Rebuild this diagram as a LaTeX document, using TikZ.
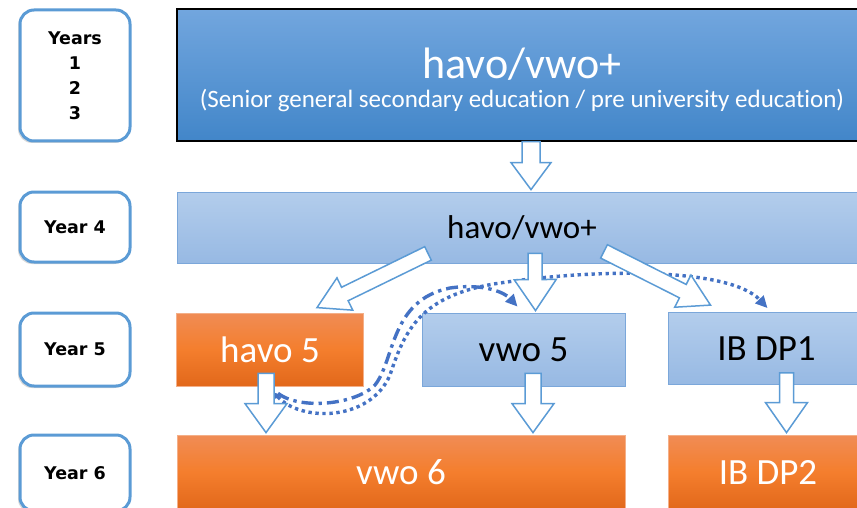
\documentclass[tikz,border=0pt]{standalone}
\usepackage{fontspec}
\setmainfont{Carlito}[Ligatures=NoCommon]
\newfontfamily\yearfont{DejaVu Sans}
\usetikzlibrary{calc,arrows.meta,shadows}
\definecolor{frame}{HTML}{5B9BD5}
\definecolor{dotblue}{HTML}{4472C4}
\definecolor{topA}{HTML}{72A6DE}
\definecolor{topB}{HTML}{4286C9}
\definecolor{lightA}{HTML}{B3CDEC}
\definecolor{lightB}{HTML}{97B9E3}
\definecolor{lightline}{HTML}{7BA7DA}
\definecolor{orA}{HTML}{F08C55}
\definecolor{orM}{HTML}{F47E2D}
\definecolor{orB}{HTML}{E2681B}

\tikzset{
  yearbox/.style={draw=frame, line width=3pt, rounded corners=14pt, fill=white,
    minimum width=110pt, align=center,
    font=\yearfont\bfseries\fontsize{17.5}{25}\selectfont,
    drop shadow={shadow xshift=-2pt, shadow yshift=-2pt, opacity=0.3}},
  bluebox/.style={draw=lightline, line width=0.8pt, top color=lightA, bottom color=lightB,
    text=black, font=\fontsize{37}{40}\selectfont},
  orangebox/.style={draw=orA!70!white, line width=0.8pt, top color=orA, bottom color=orB,
    middle color=orM, text=white, font=\fontsize{37}{40}\selectfont},
  fatarr/.style={draw=frame, fill=white, line width=1.5pt, line join=miter},
  dotline/.style={dotblue, line width=3.4pt, dash pattern=on 3.4pt off 3.6pt},
  dashdotline/.style={dotblue, line width=3.4pt, dash pattern=on 12pt off 5pt on 3.4pt off 5pt}
}

% from, to, shaft half width, head half width, head length
\newcommand{\fatarrow}[5]{%
  \coordinate (fh) at ($(#2)!#5!(#1)$);
  \draw[fatarr] ($(#1)!#3!90:(#2)$) -- ($(fh)!#3!90:(#2)$) -- ($(fh)!#4!90:(#2)$) -- (#2)
    -- ($(fh)!#4!-90:(#2)$) -- ($(fh)!#3!-90:(#2)$) -- ($(#1)!#3!-90:(#2)$) -- cycle;}

\begin{document}
\begin{tikzpicture}[x=1pt,y=-1pt]
  \useasboundingbox (0,0) rectangle (857,508);
  \clip (0,0) rectangle (857,508);

  \node[yearbox, minimum height=131pt] (yrs) at (75,75.5) {Years\\1\\2\\3};
  \node[yearbox, minimum height=70pt] (yr4) at (75,227) {Year 4};
  \node[yearbox, minimum height=73pt] (yr5) at (75,349.5) {Year 5};
  \node[yearbox, minimum height=76pt] (yr6) at (75,473) {Year 6};

  \node[bluebox, minimum width=690pt, minimum height=132pt, top color=topA, bottom color=topB,
    draw=black, line width=1.5pt, text=white, align=center, font=\fontsize{25}{29}\selectfont]
    (top) at (522,75) {{\fontsize{44}{48}\selectfont\rule{0pt}{41pt}havo/vwo+}\\(Senior general secondary education / pre university education)};
  \node[bluebox, minimum width=690pt, minimum height=71pt, font=\fontsize{33}{36}\selectfont]
    (four) at (522,227.5) {havo/vwo+};
  \node[orangebox, minimum width=187pt, minimum height=73pt] (havo5) at (270,349.5) {havo 5};
  \node[bluebox, minimum width=203pt, minimum height=73pt] (vwo5) at (523.5,349.5) {vwo 5};
  \node[bluebox, minimum width=197pt, minimum height=72pt] (ib1) at (766.5,348.5) {IB DP1};
  \node[orangebox, minimum width=448pt, minimum height=74pt] (vwo6) at (401,472) {vwo 6};
  \node[orangebox, minimum width=200pt, minimum height=74pt] (ib2) at (768,472) {IB DP2};

  \coordinate (h1) at ($(havo5.south)+(4,6)$);
  \coordinate (h2) at ($(havo5.south)+(8,7)$);
  \coordinate (v1) at ($(vwo5.north)+(-6,-6)$);
  \coordinate (i1) at ($(ib1.north)+(1,-4)$);
  \draw[dotline, {Triangle[length=6pt,width=6pt]}-{Triangle[length=12pt,width=11pt]}]
    (h1) .. controls (300,422) and (370,422) .. (390,375)
    .. controls (405,330) and (420,295) .. (500,283)
    .. controls (600,268) and (730,268) .. (i1);
  \draw[dashdotline, -{Triangle[length=12pt,width=11pt]}]
    (h2) .. controls (300,410) and (355,405) .. (375,385)
    .. controls (395,360) and (390,300) .. (450,288)
    .. controls (485,283) and (505,293) .. (v1);

  \coordinate (a1) at ($(top.south)+(9,0)$);
  \coordinate (b1) at ($(four.north)+(9,-2)$);
  \coordinate (a2) at ($(four.south)+(-94,-10)$);
  \coordinate (b2) at ($(havo5.north)+(47,-5)$);
  \coordinate (a3) at ($(four.south)+(13,-10)$);
  \coordinate (b3) at ($(vwo5.north)+(12,-2)$);
  \coordinate (a4) at ($(four.south)+(82,-12)$);
  \coordinate (b4) at ($(ib1.north)+(-56,-7)$);
  \coordinate (a5) at ($(havo5.south)+(-4,-13)$);
  \coordinate (b5) at ($(havo5.south |- vwo6.north)+(-4,-2)$);
  \coordinate (a6) at ($(vwo5.south)+(9.5,-13)$);
  \coordinate (b6) at ($(vwo5.south |- vwo6.north)+(9.5,-2)$);
  \coordinate (a7) at ($(ib1.south)+(20,-12)$);
  \coordinate (b7) at ($(ib1.south |- ib2.north)+(20,-2)$);

  \fatarrow{a1}{b1}{9pt}{20pt}{27pt}
  \fatarrow{a2}{b2}{7.5pt}{18pt}{31pt}
  \fatarrow{a3}{b3}{7pt}{21pt}{31pt}
  \fatarrow{a4}{b4}{7.5pt}{18pt}{31pt}
  \fatarrow{a5}{b5}{8pt}{21pt}{29pt}
  \fatarrow{a6}{b6}{8pt}{21pt}{29pt}
  \fatarrow{a7}{b7}{7pt}{21pt}{30pt}
\end{tikzpicture}
\end{document}
